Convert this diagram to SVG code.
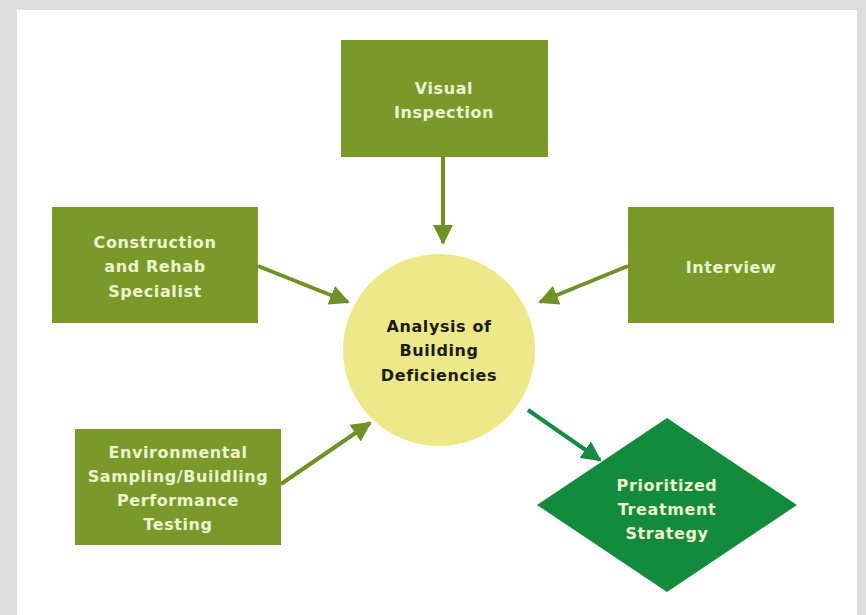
<svg xmlns="http://www.w3.org/2000/svg" width="866" height="615" viewBox="0 0 866 615">
<defs>
<style>
.box{fill:#799a2b;}
.lbl{font-family:"DejaVu Sans","Liberation Sans",sans-serif;font-weight:bold;font-size:16px;letter-spacing:0.6px;fill:#eef3cf;text-anchor:middle;}
.dark{fill:#1c1c0c;}
.con{stroke:#6f9127;stroke-width:4;fill:none;}
.con2{stroke:#178a45;stroke-width:4;fill:none;}
</style>
<marker id="ah" viewBox="0 0 10 10" refX="9" refY="5" markerWidth="5" markerHeight="5" orient="auto" markerUnits="strokeWidth">
<path d="M0,0 L10,5 L0,10 z" fill="#6f9127"/>
</marker>
<marker id="ah2" viewBox="0 0 10 10" refX="9" refY="5" markerWidth="5" markerHeight="5" orient="auto" markerUnits="strokeWidth">
<path d="M0,0 L10,5 L0,10 z" fill="#178a45"/>
</marker>
</defs>
<rect x="0" y="0" width="866" height="615" fill="#dedede"/>
<rect x="17" y="10" width="840" height="605" fill="#ffffff"/>
<g id="connectors">
<line class="con" x1="443" y1="157" x2="443" y2="243" marker-end="url(#ah)"/>
<line class="con" x1="258" y1="266" x2="348" y2="302" marker-end="url(#ah)"/>
<line class="con" x1="628" y1="266" x2="540" y2="302" marker-end="url(#ah)"/>
<line class="con" x1="281" y1="484" x2="370" y2="423" marker-end="url(#ah)"/>
<line class="con2" x1="528" y1="410" x2="600" y2="460" marker-end="url(#ah2)"/>
</g>
<g id="visual">
<rect class="box" x="341" y="40" width="207" height="117"/>
<text class="lbl" x="444" y="94">Visual</text>
<text class="lbl" x="444" y="118">Inspection</text>
</g>
<g id="construction">
<rect class="box" x="52" y="207" width="206" height="116"/>
<text class="lbl" x="155" y="248">Construction</text>
<text class="lbl" x="155" y="272">and Rehab</text>
<text class="lbl" x="155" y="297">Specialist</text>
</g>
<g id="interview">
<rect class="box" x="628" y="207" width="206" height="116"/>
<text class="lbl" x="731" y="273">Interview</text>
</g>
<g id="environmental">
<rect class="box" x="75" y="429" width="206" height="116"/>
<text class="lbl" x="178" y="458">Environmental</text>
<text class="lbl" x="178" y="482">Sampling/Buildling</text>
<text class="lbl" x="178" y="506">Performance</text>
<text class="lbl" x="178" y="530">Testing</text>
</g>
<g id="analysis">
<circle cx="439" cy="350" r="96" fill="#ede98b"/>
<text class="lbl dark" x="439" y="332">Analysis of</text>
<text class="lbl dark" x="439" y="356">Building</text>
<text class="lbl dark" x="439" y="381">Deficiencies</text>
</g>
<g id="strategy">
<polygon points="667,418 797,505 667,592 537,505" fill="#148a3d"/>
<text class="lbl" x="667" y="491">Prioritized</text>
<text class="lbl" x="667" y="515">Treatment</text>
<text class="lbl" x="667" y="539">Strategy</text>
</g>
</svg>
